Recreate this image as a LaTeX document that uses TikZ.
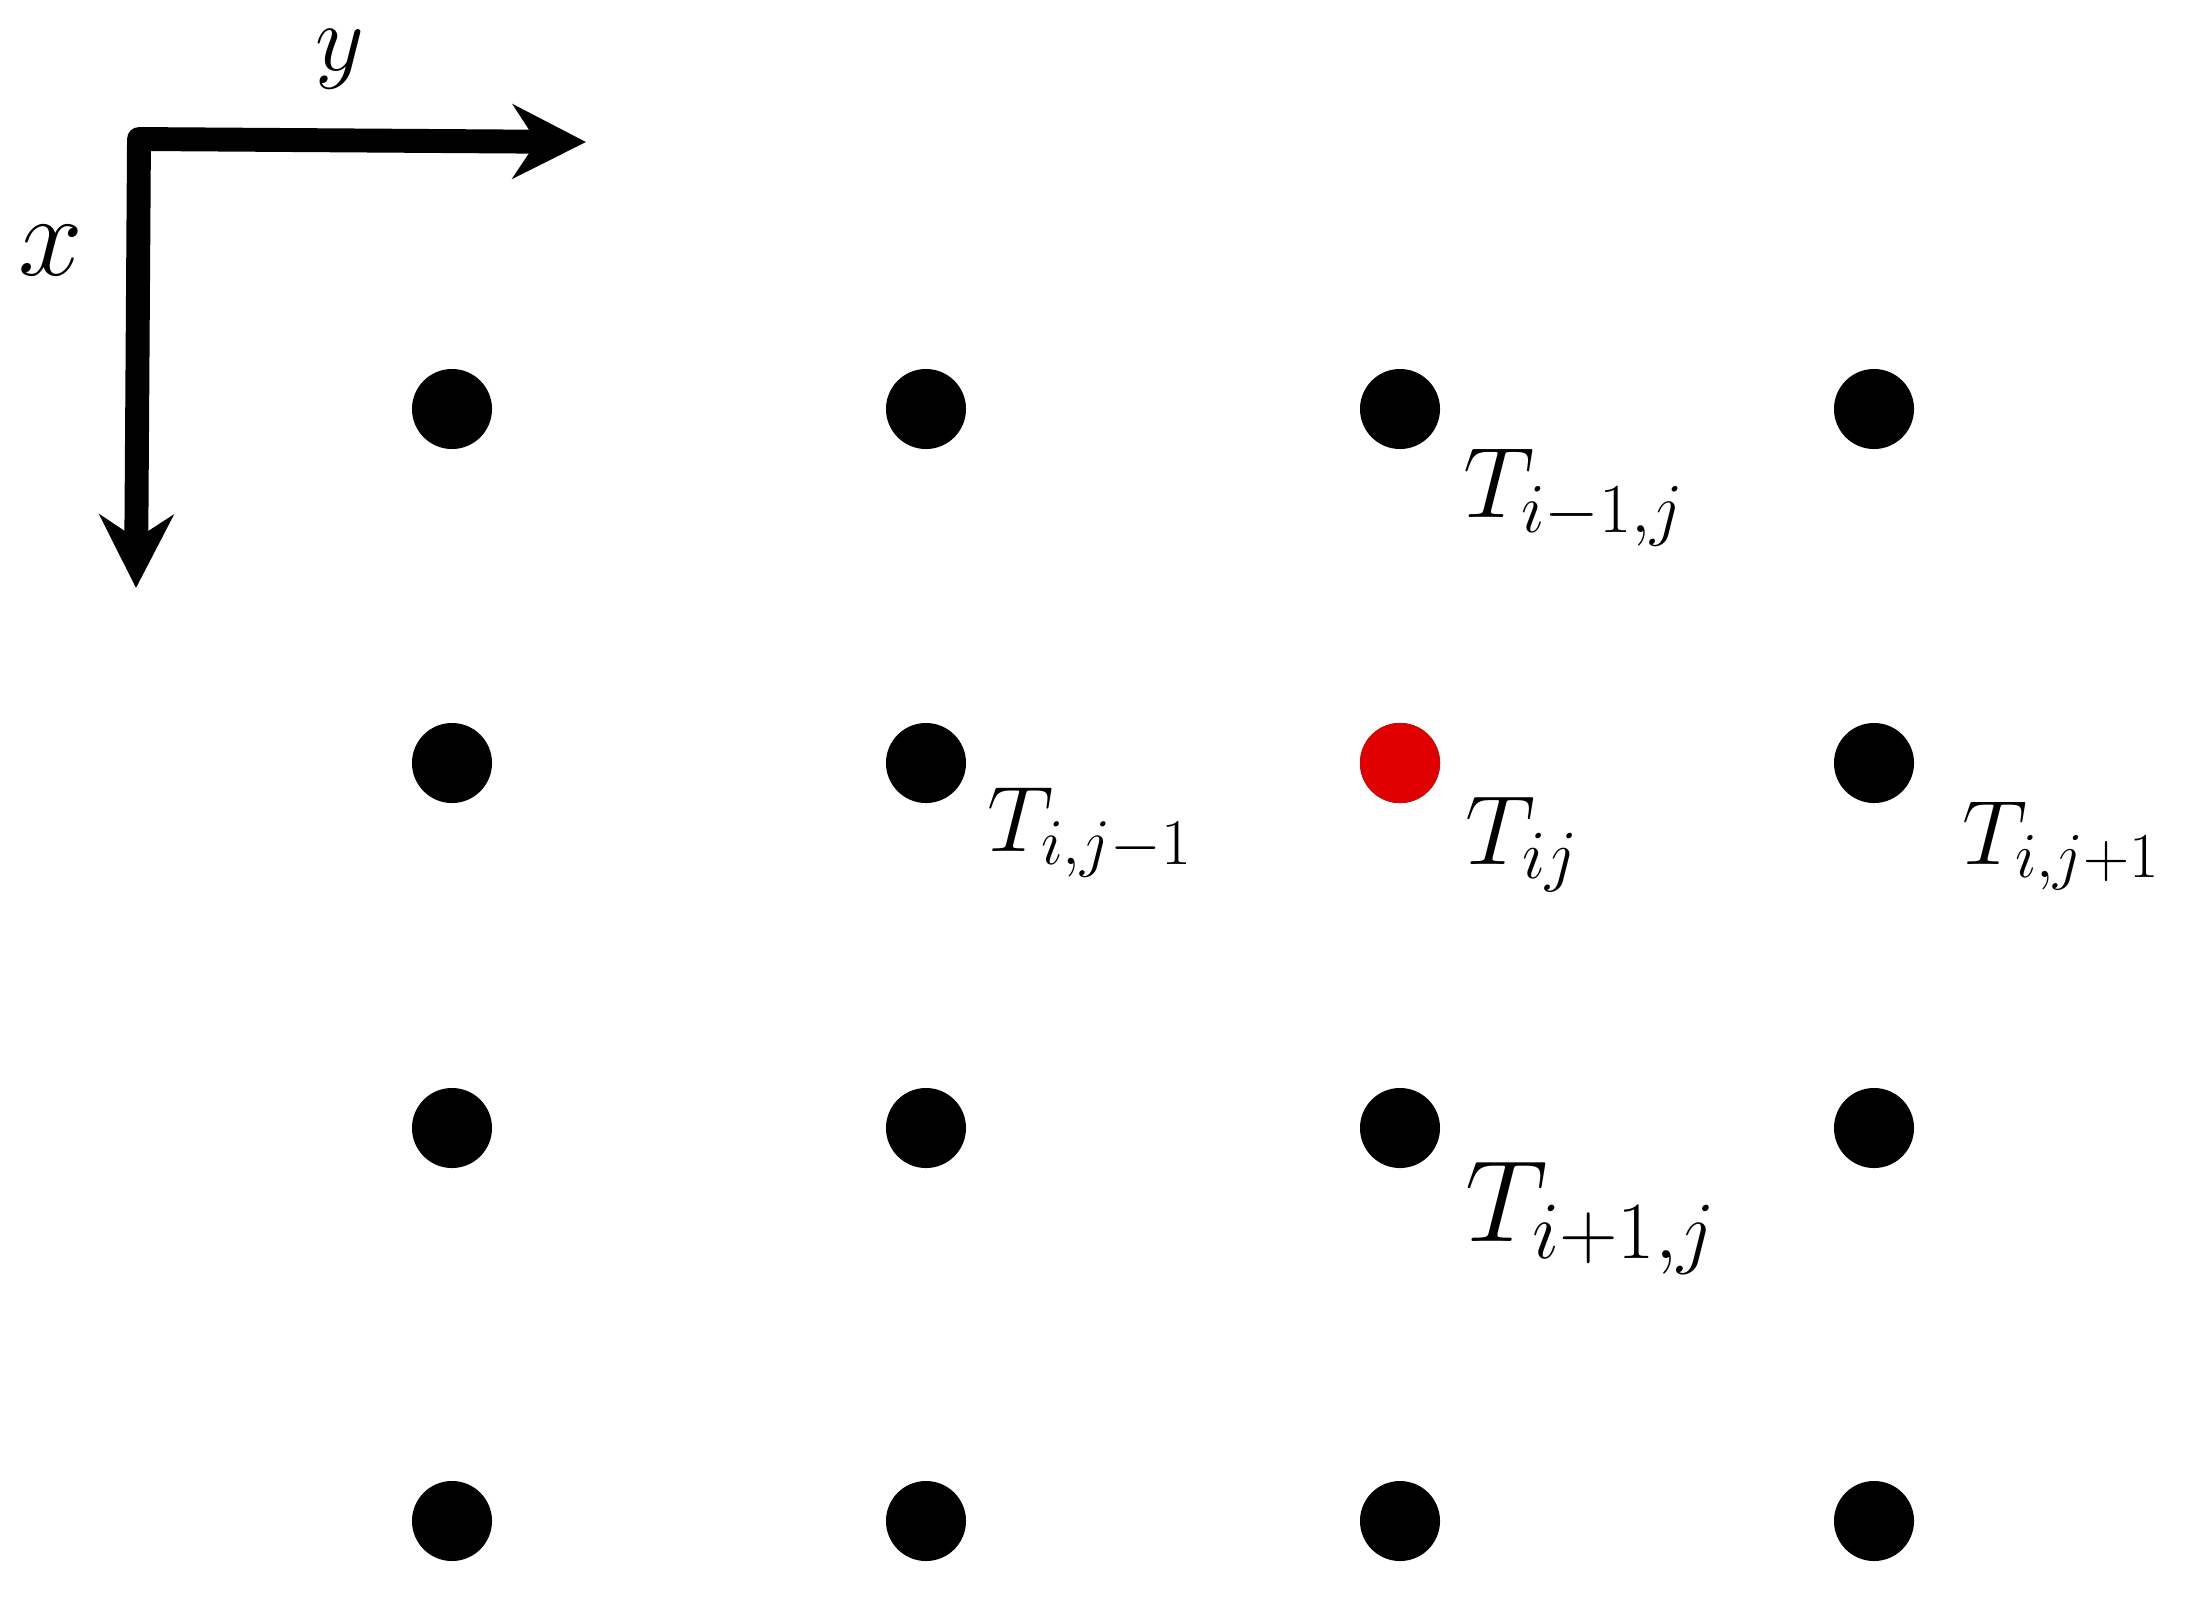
\RequirePackage{fix-cm}
\documentclass[tikz,border=0pt]{standalone}
\usepackage{tikz}
\usetikzlibrary{arrows.meta}
\definecolor{dotred}{HTML}{E00000}

\begin{document}
\begin{tikzpicture}[
  x=0.01cm, y=-0.01cm,
  line cap=round, line join=round,
  axis/.style = {draw=black, line width=6.8pt},
  pt/.style   = {circle, fill=black, minimum size=0.8cm, inner sep=0pt},
  hot/.style  = {pt, fill=dotred},
  lbl/.style  = {anchor=base west, inner sep=0pt, font=\fontsize{28.5}{32}\selectfont},
  sml/.style  = {lbl, font=\fontsize{26.5}{30}\selectfont},
  big/.style  = {lbl, font=\fontsize{33}{38}\selectfont}
]
\useasboundingbox (0,0) rectangle (2202,1611);

% axes
\coordinate (corner) at (139,139);
\coordinate (xend) at (136,588);
\coordinate (yend) at (586,142);
\draw[axis, {Stealth[length=20.8pt, width=21pt, inset=6.8pt]}-{Stealth[length=20.8pt, width=21pt, inset=6.8pt]}]
  (xend) -- (corner) -- (yend);
\node[inner sep=0pt, font=\fontsize{33}{38}\selectfont] (xlab) at (51,251) {$x$};
\node[inner sep=0pt, font=\fontsize{27}{32}\selectfont] (ylab) at (340,59) {$y$};

% grid points
\foreach \c/\px in {1/452, 2/926, 3/1400, 4/1874}
  \foreach \r/\py in {1/409, 2/763, 3/1128, 4/1521}
    \node[pt] (d\c\r) at (\px,\py) {};
\node[hot] (d32) at (1400,763) {};

% labels
\node[lbl] (tup) at (1463,517) {$T_{i-1,j}$};
\node[sml] (tleft) at (987,851) {$T_{i,j-1}$};
\node[lbl, font=\fontsize{28}{32}\selectfont] (tmid) at (1465,864) {$T_{ij}$};
\node[sml, font=\fontsize{26}{30}\selectfont] (tright) at (1962,864) {$T_{i,j+1}$};
\node[big] (tdown) at (1465,1241) {$T_{i+1,j}$};

\end{tikzpicture}
\end{document}
